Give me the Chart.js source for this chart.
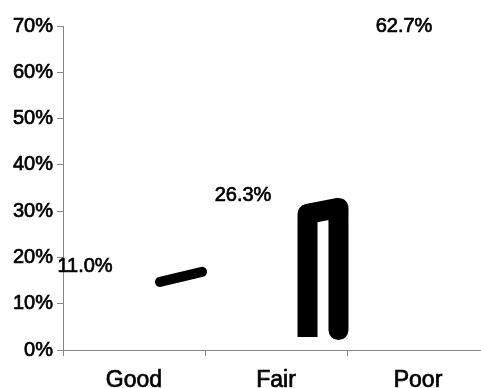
<!DOCTYPE html>
<html>
<head>
<meta charset="utf-8">
<script src="https://cdn.jsdelivr.net/npm/chart.js@4/dist/chart.umd.min.js"></script>
<style>
  html, body { margin: 0; padding: 0; background: #fff; overflow: hidden; }
  #wrap { position: relative; width: 500px; height: 388px; }
</style>
</head>
<body>
<div id="wrap"><canvas id="chart"></canvas></div>
<script>
// values
const categories = ['Good', 'Fair', 'Poor'];
const shares = [11.0, 26.3, 62.7];
const yMax = 70;

// the only black marks that survived in the picture (category units / percent)
const goodMarkX = [0.683, 0.979];
const goodMarkY = [14.7, 16.9];
const fairMarkX = [1.722, 1.722, 1.940, 1.940];
const fairMarkY = [2.8, 29.4, 30.7, 4.3];

const FONT = 'Liberation Sans, Arial, sans-serif';
const AXIS_GRAY = '#888888';
const TEXT_STROKE = 0.7;
// labels sit up and to the left of the (3D) bar tops
const labelShift = { dx: [-49, -33, -14], dy: -33 };

const toPoints = (xs, ys) => xs.map((x, i) => ({ x, y: ys[i] }));

const valueLabels = {
  id: 'valueLabels',
  afterDatasetsDraw(chart) {
    const { ctx } = chart;
    const meta = chart.getDatasetMeta(0);
    ctx.save();
    ctx.font = `20px ${FONT}`;
    ctx.fillStyle = '#000';
    ctx.strokeStyle = '#000';
    ctx.lineWidth = TEXT_STROKE;
    ctx.textAlign = 'center';
    ctx.textBaseline = 'middle';
    meta.data.forEach((bar, i) => {
      const txt = shares[i].toFixed(1) + '%';
      const x = bar.x + labelShift.dx[i];
      const y = bar.y + labelShift.dy;
      ctx.fillText(txt, x, y);
      ctx.strokeText(txt, x, y);
    });
    ctx.restore();
  }
};

new Chart(document.getElementById('chart').getContext('2d'), {
  type: 'bar',
  data: {
    labels: categories,
    datasets: [
      {
        label: 'Share',
        data: shares,
        grouped: false,
        backgroundColor: 'rgba(0,0,0,0)',
        borderWidth: 0,
        order: 2
      },
      {
        type: 'line',
        xAxisID: 'x2',
        data: toPoints(goodMarkX, goodMarkY),
        borderColor: '#000',
        borderWidth: 10,
        borderCapStyle: 'round',
        pointRadius: 0,
        order: 1
      },
      {
        type: 'line',
        xAxisID: 'x2',
        data: toPoints(fairMarkX, fairMarkY),
        borderColor: '#000',
        borderWidth: 20,
        borderCapStyle: 'butt',
        borderJoinStyle: 'round',
        pointRadius: 0,
        order: 1
      }
    ]
  },
  options: {
    responsive: true,
    maintainAspectRatio: false,
    animation: false,
    layout: { padding: { top: 26, right: 11, left: 0, bottom: 0 } },
    plugins: { legend: { display: false }, tooltip: { enabled: false } },
    scales: {
      x: {
        grid: { display: true, drawOnChartArea: false, tickLength: 6, color: AXIS_GRAY },
        border: { color: AXIS_GRAY, width: 1 },
        ticks: { color: '#000', font: { family: FONT, size: 23 }, padding: 11,
          textStrokeColor: '#000', textStrokeWidth: TEXT_STROKE },
        afterFit: s => { s.height = 38; }
      },
      x2: { type: 'linear', display: false, offset: false, min: 0, max: 3 },
      y: {
        min: 0,
        max: yMax,
        ticks: { stepSize: 10, color: '#000', font: { family: FONT, size: 20 }, padding: 4,
          textStrokeColor: '#000', textStrokeWidth: TEXT_STROKE,
          callback: v => v + '%' },
        grid: { display: true, drawOnChartArea: false, tickLength: 6, color: AXIS_GRAY },
        border: { color: AXIS_GRAY, width: 1 },
        afterFit: s => { s.width = 63; }
      }
    }
  },
  plugins: [valueLabels]
});
</script>
</body>
</html>
